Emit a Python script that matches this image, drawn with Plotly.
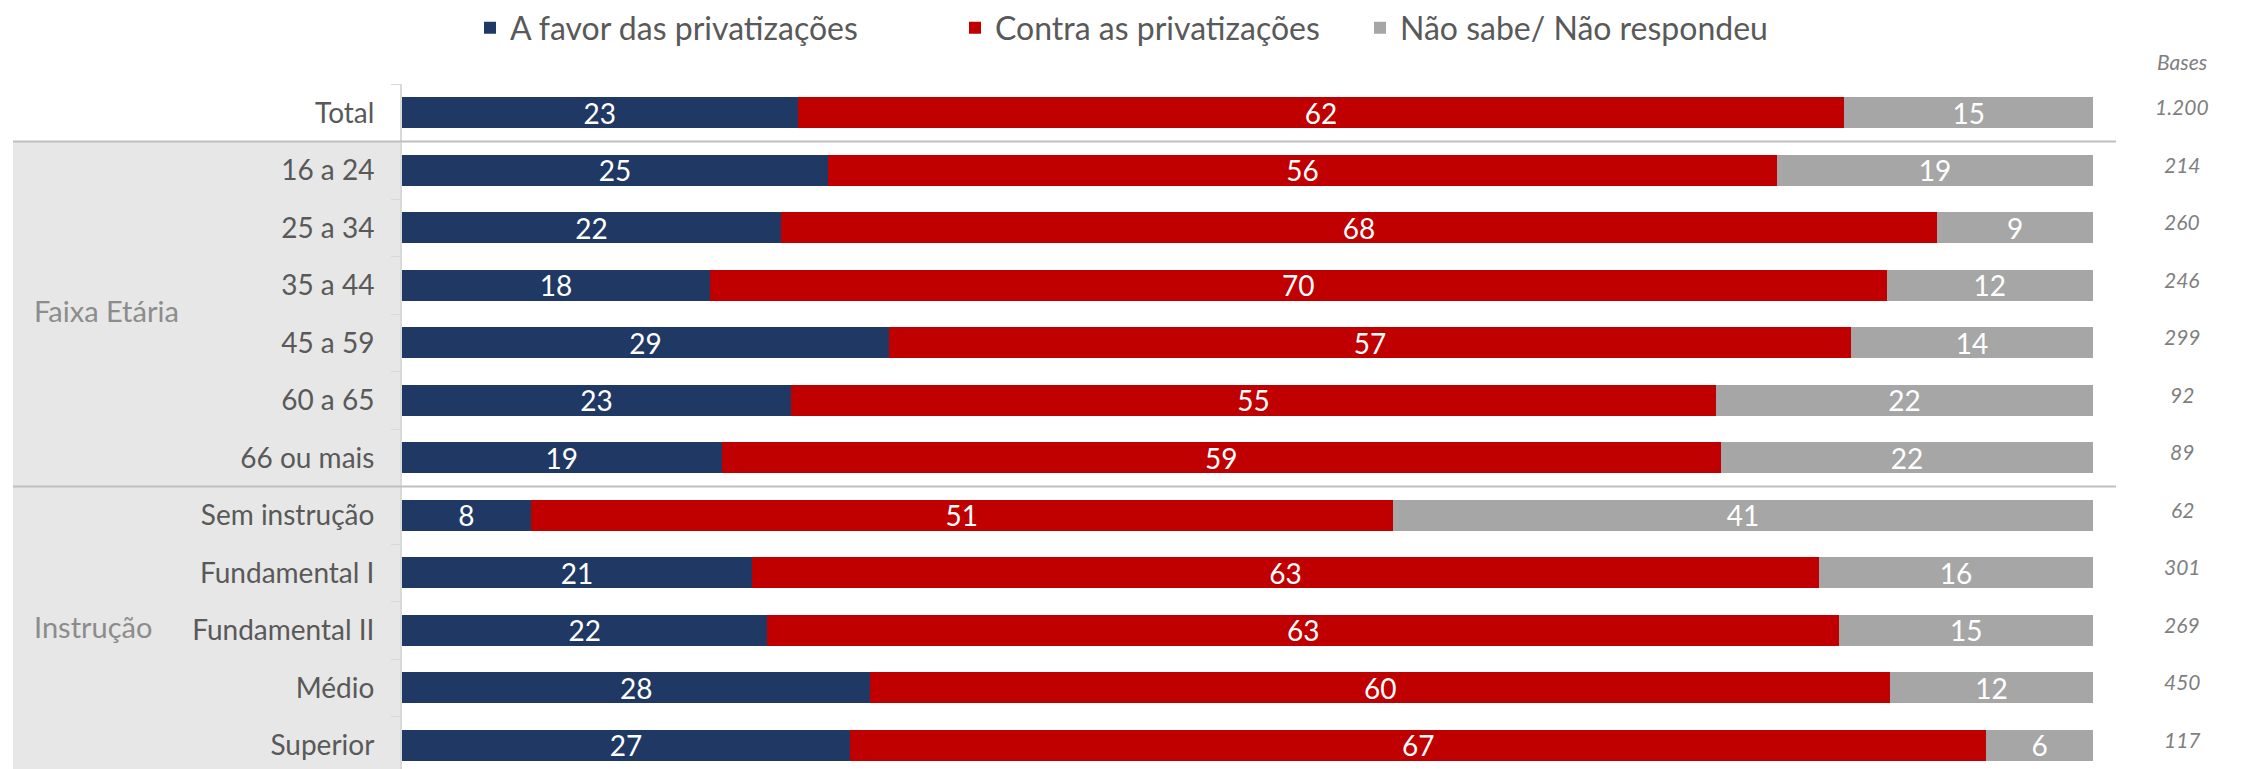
import plotly.graph_objects as go

categories = ["Total", "16 a 24", "25 a 34", "35 a 44", "45 a 59", "60 a 65", "66 ou mais",
              "Sem instrução", "Fundamental I", "Fundamental II", "Médio", "Superior"]
a_favor = [23.4, 25.2, 22.4, 18.2, 28.8, 23.0, 18.9, 7.6, 20.7, 21.6, 27.7, 26.5]
contra = [61.9, 56.1, 68.4, 69.6, 56.9, 54.7, 59.1, 51.0, 63.1, 63.4, 60.3, 67.2]
nao_sabe = [14.7, 18.7, 9.2, 12.2, 14.3, 22.3, 22.0, 41.4, 16.2, 15.0, 12.0, 6.3]
bases = ["1.200", "214", "260", "246", "299", "92", "89", "62", "301", "269", "450", "117"]
series_names = ["A favor das privatizações", "Contra as privatizações", "Não sabe/ Não respondeu"]
group_labels = ["Faixa Etária", "Instrução"]
group_positions = [3.5, 9]
bases_title = "Bases"

colors = ["#203864", "#C00000", "#A6A6A6"]
FONT = "Lato, 'Open Sans', sans-serif"

OFF = 8  # page body margin in the browser
W, H = 2242 - OFF, 769 - OFF
L, T = 402 - OFF, 84 - OFF
R = 2242 - 2093
B = 0
plot_w = W - L - R
plot_h = H - T - B
row_px = 57.5
y_bottom = -0.5 + plot_h / row_px


def px_to_paper_x(px):
    return (px - OFF - L) / plot_w


def px_to_paper_y(py):
    return 1 + (T - (py - OFF)) / plot_h


legend_widths = [440, 360, 480]

fig = go.Figure()
for name, vals, col, lw in zip(series_names, [a_favor, contra, nao_sabe], colors, legend_widths):
    fig.add_trace(go.Bar(
        y=categories, x=vals, name=name, orientation="h",
        marker=dict(color=col, line=dict(width=0)),
        text=vals, texttemplate="%{x:.0f}", textposition="inside",
        insidetextanchor="middle", textangle=0, constraintext="none",
        textfont=dict(color="white", size=28, family=FONT),
        legendwidth=lw,
        hoverinfo="skip",
    ))

shapes = [
    dict(type="rect", xref="paper", yref="y", x0=px_to_paper_x(13), x1=0,
         y0=0.5, y1=y_bottom + 1, fillcolor="#E7E7E7", line=dict(width=0), layer="below"),
]
for ysep in [0.5, 6.5]:
    shapes.append(dict(type="line", xref="paper", yref="y", x0=px_to_paper_x(13),
                       x1=px_to_paper_x(2116), y0=ysep, y1=ysep,
                       line=dict(color="#BFBFBF", width=2), layer="above"))

annotations = []
for g, pos in zip(group_labels, group_positions):
    annotations.append(dict(text=g, xref="paper", yref="y", x=px_to_paper_x(32), y=pos,
                            yshift=4, xanchor="left", yanchor="middle", showarrow=False,
                            font=dict(size=29, color="#8C8C8C", family=FONT)))
annotations.append(dict(text=f"<i>{bases_title}</i>", xref="paper", yref="paper",
                        x=px_to_paper_x(2182), y=px_to_paper_y(61), xanchor="center",
                        yanchor="middle", showarrow=False,
                        font=dict(size=21, color="#7F7F7F", family=FONT)))
for cat, b in zip(categories, bases):
    annotations.append(dict(text=f"<i>{b}</i>", xref="paper", yref="y",
                            x=px_to_paper_x(2182), y=cat, yshift=6, xanchor="center",
                            yanchor="middle", showarrow=False,
                            font=dict(size=21, color="#7F7F7F", family=FONT)))

fig.update_layout(
    width=W, height=H, barmode="stack", bargap=0.46,
    margin=dict(l=L, r=R, t=T, b=B, pad=0, autoexpand=False),
    paper_bgcolor="white", plot_bgcolor="rgba(0,0,0,0)",
    font=dict(family=FONT, color="#595959"),
    legend=dict(orientation="h", x=px_to_paper_x(470), y=px_to_paper_y(28),
                xanchor="left", yanchor="middle", traceorder="normal",
                font=dict(size=32, color="#595959", family=FONT),
                itemwidth=30, bgcolor="rgba(0,0,0,0)"),
    shapes=shapes, annotations=annotations,
    xaxis=dict(range=[0, 100], visible=False, fixedrange=True),
    yaxis=dict(categoryorder="array", categoryarray=categories,
               range=[y_bottom, -0.5], showgrid=False, zeroline=False,
               showline=True, linecolor="#D9D9D9", linewidth=2,
               ticks="outside", ticklen=9, tickcolor="#D9D9D9", tickson="boundaries",
               ticklabelstandoff=20,
               tickfont=dict(size=28, color="#595959", family=FONT)),
)

fig.write_html("out.html")
